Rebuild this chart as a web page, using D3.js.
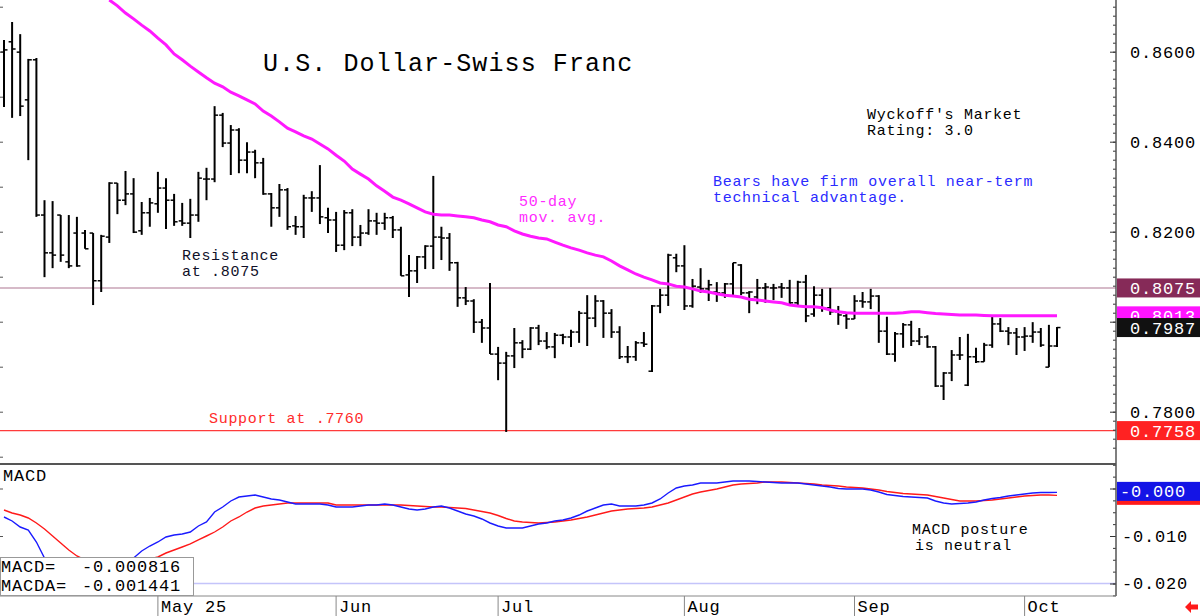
<!DOCTYPE html>
<html>
<head>
<meta charset="utf-8">
<script src="https://cdn.jsdelivr.net/npm/d3@7"></script>
<style>
  body { margin: 0; background: #fff; }
  svg text { font-family: "Liberation Mono", "DejaVu Sans Mono", monospace; }
</style>
</head>
<body>
<div id="chart"></div>
<script>
// daily bars, USD/CHF (bar index 0 = early April)
const opens = [
  0.8599,0.8622,0.8599,0.8493,0.8582,0.8237,0.8153,0.8237,0.8133,0.8197,
  0.8197,0.8197,0.8091,0.8188,0.8308,0.8270,0.8284,0.8202,0.8242,0.8262,
  0.8297,0.8270,0.8224,0.8219,0.8237,0.8317,0.8317,0.8459,0.8397,0.8426,
  0.8359,0.8377,0.8353,0.8284,0.8253,0.8293,0.8213,0.8211,0.8275,0.8275,
  0.8231,0.8226,0.8170,0.8242,0.8188,0.8197,0.8224,0.8219,0.8231,0.8204,
  0.8104,0.8113,0.8144,0.8168,0.8188,0.8186,0.8131,0.8053,0.8046,0.7999,
  0.7986,0.7928,0.7908,0.7924,0.7953,0.7939,0.7986,0.7957,0.7944,0.7970,
  0.7966,0.7977,0.8019,0.8008,0.8046,0.8019,0.7977,0.7922,0.7922,0.7953,
  0.7890,0.8035,0.8059,0.8142,0.8124,0.8035,0.8077,0.8073,0.8066,0.8064,
  0.8084,0.8126,0.8064,0.8055,0.8075,0.8075,0.8077,0.8075,0.8042,0.8088,
  0.8017,0.8059,0.8031,0.8022,0.8013,0.8006,0.8046,0.8044,0.8057,0.7979,
  0.7928,0.7973,0.7993,0.7957,0.7966,0.7944,0.7857,0.7886,0.7926,0.7859,
  0.7922,0.7911,0.7948,0.7995,0.7979,0.7975,0.7966,0.7968,0.7977,0.7899,
  0.7946];
const highs = [
  0.8626,0.8666,0.8639,0.8584,0.8586,0.8270,0.8268,0.8237,0.8237,0.8233,
  0.8204,0.8197,0.8193,0.8310,0.8308,0.8335,0.8319,0.8266,0.8275,0.8333,
  0.8319,0.8284,0.8264,0.8273,0.8333,0.8342,0.8479,0.8464,0.8437,0.8430,
  0.8399,0.8382,0.8364,0.8286,0.8306,0.8297,0.8235,0.8282,0.8290,0.8348,
  0.8253,0.8244,0.8248,0.8250,0.8215,0.8250,0.8242,0.8242,0.8235,0.8211,
  0.8148,0.8146,0.8170,0.8324,0.8211,0.8197,0.8133,0.8077,0.8050,0.8006,
  0.8086,0.7944,0.7933,0.7986,0.7959,0.7988,0.7993,0.7977,0.7975,0.7973,
  0.7982,0.8024,0.8059,0.8059,0.8048,0.8028,0.7990,0.7946,0.7957,0.7977,
  0.8037,0.8073,0.8151,0.8151,0.8170,0.8095,0.8119,0.8093,0.8088,0.8086,
  0.8131,0.8128,0.8068,0.8095,0.8086,0.8084,0.8086,0.8093,0.8091,0.8104,
  0.8079,0.8073,0.8075,0.8035,0.8019,0.8059,0.8066,0.8073,0.8059,0.8011,
  0.7977,0.7997,0.8002,0.7986,0.7970,0.7946,0.7888,0.7937,0.7966,0.7973,
  0.7942,0.7953,0.8011,0.8008,0.7988,0.7986,0.7988,0.7999,0.7986,0.7993,
  0.7988];
const lows = [
  0.8477,0.8453,0.8457,0.8359,0.8233,0.8099,0.8119,0.8133,0.8119,0.8122,
  0.8162,0.8037,0.8066,0.8175,0.8239,0.8259,0.8197,0.8193,0.8211,0.8242,
  0.8206,0.8213,0.8213,0.8186,0.8222,0.8270,0.8310,0.8388,0.8326,0.8330,
  0.8330,0.8319,0.8282,0.8211,0.8233,0.8204,0.8193,0.8186,0.8244,0.8217,
  0.8197,0.8155,0.8159,0.8168,0.8168,0.8193,0.8193,0.8204,0.8186,0.8102,
  0.8055,0.8086,0.8117,0.8117,0.8137,0.8113,0.8033,0.8037,0.7975,0.7953,
  0.7928,0.7870,0.7755,0.7897,0.7919,0.7937,0.7948,0.7939,0.7919,0.7950,
  0.7944,0.7953,0.7946,0.7988,0.7964,0.7964,0.7917,0.7908,0.7913,0.7944,
  0.7888,0.8019,0.8035,0.8110,0.8026,0.8031,0.8064,0.8046,0.8044,0.8053,
  0.8057,0.8059,0.8019,0.8039,0.8042,0.8048,0.8053,0.8037,0.8033,0.7999,
  0.8011,0.8022,0.8015,0.7993,0.7984,0.8006,0.8031,0.8028,0.7953,0.7926,
  0.7911,0.7942,0.7946,0.7948,0.7942,0.7855,0.7826,0.7868,0.7915,0.7857,
  0.7908,0.7911,0.7942,0.7977,0.7948,0.7926,0.7935,0.7953,0.7944,0.7899,
  0.7944];
const closes = [
  0.8604,0.8606,0.8479,0.8582,0.8237,0.8153,0.8148,0.8148,0.8124,0.8124,
  0.8162,0.8091,0.8190,0.8308,0.8270,0.8284,0.8199,0.8242,0.8264,0.8297,
  0.8270,0.8222,0.8219,0.8237,0.8319,0.8317,0.8459,0.8397,0.8426,0.8359,
  0.8377,0.8353,0.8284,0.8253,0.8293,0.8211,0.8211,0.8275,0.8275,0.8233,
  0.8226,0.8170,0.8242,0.8188,0.8197,0.8224,0.8219,0.8231,0.8204,0.8102,
  0.8113,0.8144,0.8168,0.8188,0.8186,0.8131,0.8053,0.8046,0.7999,0.7986,
  0.7928,0.7908,0.7924,0.7953,0.7939,0.7986,0.7957,0.7944,0.7970,0.7966,
  0.7977,0.8019,0.8008,0.8046,0.8019,0.7977,0.7922,0.7922,0.7953,0.7950,
  0.8035,0.8059,0.8148,0.8124,0.8035,0.8079,0.8073,0.8082,0.8064,0.8084,
  0.8131,0.8064,0.8066,0.8075,0.8077,0.8075,0.8075,0.8042,0.8088,0.8013,
  0.8059,0.8031,0.8022,0.8015,0.8006,0.8046,0.8044,0.8057,0.7979,0.7928,
  0.7973,0.7993,0.7957,0.7966,0.7944,0.7857,0.7886,0.7926,0.7926,0.7922,
  0.7911,0.7948,0.7995,0.7979,0.7975,0.7966,0.7968,0.7977,0.7948,0.7946,
  0.7987];

// 50-day moving average (above the chart before bar 13)
const ma50 = [
  null,null,null,null,null,null,null,null,null,null,
  null,null,null,0.8715,0.8702,0.8686,0.8673,0.8659,0.8646,0.8630,
  0.8615,0.8595,0.8582,0.8568,0.8555,0.8542,0.8530,0.8522,0.8510,0.8502,
  0.8493,0.8484,0.8468,0.8457,0.8444,0.8430,0.8422,0.8413,0.8406,0.8395,
  0.8384,0.8370,0.8357,0.8339,0.8328,0.8317,0.8302,0.8290,0.8277,0.8270,
  0.8262,0.8253,0.8244,0.8239,0.8237,0.8237,0.8235,0.8233,0.8231,0.8226,
  0.8222,0.8215,0.8211,0.8202,0.8195,0.8190,0.8186,0.8184,0.8177,0.8170,
  0.8164,0.8159,0.8153,0.8148,0.8144,0.8135,0.8124,0.8115,0.8106,0.8099,
  0.8093,0.8086,0.8084,0.8079,0.8077,0.8073,0.8068,0.8066,0.8062,0.8059,
  0.8057,0.8055,0.8050,0.8048,0.8046,0.8044,0.8042,0.8037,0.8035,0.8033,
  0.8033,0.8031,0.8026,0.8022,0.8020,0.8019,0.8019,0.8019,0.8019,0.8019,
  0.8019,0.8020,0.8022,0.8022,0.8020,0.8018,0.8017,0.8016,0.8015,0.8015,
  0.8015,0.8014,0.8013,0.8013,0.8013,0.8013,0.8013,0.8013,0.8013,0.8013,
  0.8013];

// MACD (blue) and MACDA signal (red)
const macd = [
  -0.00600,-0.00684,-0.00811,-0.00874,-0.01126,-0.01463,-0.01632,-0.01758,-0.01842,-0.01884,
  -0.01905,-0.01926,-0.01905,-0.01842,-0.01737,-0.01611,-0.01463,-0.01316,-0.01211,-0.01126,
  -0.01021,-0.00979,-0.00958,-0.00916,-0.00789,-0.00705,-0.00495,-0.00389,-0.00263,-0.00179,
  -0.00158,-0.00137,-0.00179,-0.00221,-0.00242,-0.00284,-0.00326,-0.00326,-0.00326,-0.00326,
  -0.00347,-0.00389,-0.00389,-0.00389,-0.00368,-0.00347,-0.00347,-0.00326,-0.00347,-0.00389,
  -0.00432,-0.00453,-0.00432,-0.00389,-0.00368,-0.00411,-0.00474,-0.00537,-0.00579,-0.00642,
  -0.00726,-0.00789,-0.00832,-0.00832,-0.00832,-0.00789,-0.00747,-0.00726,-0.00684,-0.00663,
  -0.00621,-0.00558,-0.00474,-0.00411,-0.00347,-0.00326,-0.00368,-0.00368,-0.00368,-0.00347,
  -0.00305,-0.00221,-0.00095,0.00011,0.00053,0.00074,0.00116,0.00116,0.00116,0.00137,
  0.00158,0.00158,0.00158,0.00147,0.00137,0.00126,0.00116,0.00116,0.00116,0.00095,
  0.00074,0.00053,0.00032,0.00000,-0.00011,-0.00011,-0.00011,-0.00032,-0.00074,-0.00126,
  -0.00147,-0.00168,-0.00179,-0.00189,-0.00200,-0.00263,-0.00305,-0.00326,-0.00316,-0.00305,
  -0.00284,-0.00242,-0.00211,-0.00189,-0.00158,-0.00137,-0.00116,-0.00095,-0.00084,-0.00084,
  -0.000816];
const macdSignal = [
  -0.00453,-0.00516,-0.00558,-0.00621,-0.00726,-0.00853,-0.01000,-0.01147,-0.01295,-0.01421,
  -0.01505,-0.01568,-0.01611,-0.01632,-0.01632,-0.01611,-0.01568,-0.01526,-0.01484,-0.01442,
  -0.01358,-0.01295,-0.01232,-0.01168,-0.01084,-0.01000,-0.00916,-0.00811,-0.00684,-0.00600,
  -0.00495,-0.00411,-0.00368,-0.00347,-0.00326,-0.00305,-0.00305,-0.00305,-0.00305,-0.00305,
  -0.00305,-0.00347,-0.00347,-0.00347,-0.00347,-0.00347,-0.00347,-0.00347,-0.00347,-0.00347,
  -0.00358,-0.00368,-0.00379,-0.00389,-0.00389,-0.00400,-0.00411,-0.00421,-0.00453,-0.00484,
  -0.00516,-0.00568,-0.00632,-0.00684,-0.00705,-0.00716,-0.00726,-0.00716,-0.00705,-0.00684,
  -0.00663,-0.00632,-0.00600,-0.00558,-0.00516,-0.00474,-0.00453,-0.00432,-0.00421,-0.00411,
  -0.00389,-0.00347,-0.00305,-0.00242,-0.00179,-0.00116,-0.00074,-0.00042,-0.00011,0.00032,
  0.00074,0.00095,0.00105,0.00116,0.00137,0.00137,0.00137,0.00126,0.00116,0.00105,
  0.00095,0.00074,0.00063,0.00053,0.00032,0.00021,0.00011,-0.00011,-0.00032,-0.00063,
  -0.00084,-0.00105,-0.00116,-0.00126,-0.00137,-0.00168,-0.00200,-0.00232,-0.00263,-0.00263,
  -0.00263,-0.00253,-0.00242,-0.00221,-0.00200,-0.00179,-0.00158,-0.00147,-0.00137,-0.00137,
  -0.001441];

const monthIdx = [19, 41, 61, 84, 105, 126];
const monthLabels = ["May 25", "Jun", "Jul", "Aug", "Sep", "Oct"];
const priceTicks = [0.86, 0.84, 0.82, 0.80, 0.78];
const macdTicks = [0, -0.01, -0.02];
const resistance = 0.8075;
const support = 0.7758;

const W = 1200, H = 616;
const axisX = 1116;          // right edge of plot area
const mainBottom = 463, macdTop = 464, macdBottom = 596;

const svg = d3.select("#chart").append("svg")
    .attr("width", W).attr("height", H)
    .style("display", "block");

const x = d3.scaleLinear().domain([0, opens.length - 1]).range([4, 1057]);
const y = d3.scaleLinear().domain([0.86, 0.78]).range([51.7, 411.7]);
const ym = d3.scaleLinear().domain([0, -0.02]).range([488.5, 583.5]);

// monospace text helper: pitch = px per character
function txt(g, px, py, str, size, pitch, color) {
    return g.append("text")
        .attr("x", px).attr("y", py)
        .attr("font-size", size)
        .attr("letter-spacing", (pitch - 0.6 * size).toFixed(2))
        .attr("fill", color || "#000")
        .text(str);
}

// the charting package truncates instead of rounding
function trunc3(v) {
    return (v < 0 ? "-" : "") + (Math.floor(Math.abs(v) * 1000) / 1000).toFixed(3);
}

const defs = svg.append("defs");
defs.append("clipPath").attr("id", "clipMain")
    .append("rect").attr("x", 0).attr("y", 0).attr("width", axisX).attr("height", mainBottom);
defs.append("clipPath").attr("id", "clipMacd")
    .append("rect").attr("x", 0).attr("y", macdTop).attr("width", axisX).attr("height", macdBottom - macdTop);

// ---------- main price panel ----------
const main = svg.append("g").attr("clip-path", "url(#clipMain)");

main.append("line")
    .attr("x1", 0).attr("x2", axisX)
    .attr("y1", y(resistance)).attr("y2", y(resistance))
    .attr("stroke", "#c9a3b6").attr("stroke-width", 1.5);
main.append("line")
    .attr("x1", 0).attr("x2", axisX)
    .attr("y1", y(support)).attr("y2", y(support))
    .attr("stroke", "#ff3b3b").attr("stroke-width", 1.2);

const idx = d3.range(opens.length);
const bars = main.append("g").attr("stroke", "#000");
bars.selectAll("line.hl").data(idx).join("line")
    .attr("class", "hl")
    .attr("x1", i => x(i)).attr("x2", i => x(i))
    .attr("y1", i => y(highs[i])).attr("y2", i => y(lows[i]))
    .attr("stroke-width", 2);
bars.selectAll("line.op").data(idx).join("line")
    .attr("class", "op")
    .attr("x1", i => x(i) - 3.5).attr("x2", i => x(i))
    .attr("y1", i => y(opens[i])).attr("y2", i => y(opens[i]))
    .attr("stroke-width", 1.5);
bars.selectAll("line.cl").data(idx).join("line")
    .attr("class", "cl")
    .attr("x1", i => x(i)).attr("x2", i => x(i) + 3.5)
    .attr("y1", i => y(closes[i])).attr("y2", i => y(closes[i]))
    .attr("stroke-width", 1.5);

const maLine = d3.line()
    .defined(d => d != null)
    .x((d, i) => x(i))
    .y(d => y(d));
main.append("path")
    .datum(ma50)
    .attr("d", maLine)
    .attr("fill", "none")
    .attr("stroke", "#ff19ff")
    .attr("stroke-width", 3);

// annotations
txt(svg, 263, 71, "U.S. Dollar-Swiss Franc", 25, 16.1, "#000");
txt(svg, 867, 119, "Wyckoff's Market", 15, 9.7, "#000");
txt(svg, 867, 135, "Rating: 3.0", 15, 9.7, "#000");
txt(svg, 713, 186, "Bears have firm overall near-term", 15, 9.7, "#2b2bff");
txt(svg, 713, 202, "technical advantage.", 15, 9.7, "#2b2bff");
txt(svg, 519, 206, "50-day", 15, 9.7, "#ff2bff");
txt(svg, 519, 222, "mov. avg.", 15, 9.7, "#ff2bff");
txt(svg, 182, 260, "Resistance", 15, 9.7, "#101028");
txt(svg, 182, 276, "at .8075", 15, 9.7, "#101028");
txt(svg, 209, 423, "Support at .7760", 15, 9.7, "#ff2b2b");

// right price axis: ticks point into the plot, labels outside
const minorPrice = d3.range(0.772, 0.8721, 0.002);
const pAxisMinor = svg.append("g").attr("transform", `translate(${axisX},0)`)
    .call(d3.axisRight(y).tickValues(minorPrice).tickSize(-3).tickFormat(""));
pAxisMinor.select(".domain").remove();
pAxisMinor.selectAll("line").attr("stroke", "#333");

const pAxis = svg.append("g").attr("transform", `translate(${axisX},0)`)
    .call(d3.axisRight(y).tickValues(priceTicks).tickSize(-6).tickPadding(14)
        .tickFormat(d => d.toFixed(4)));
pAxis.select(".domain").remove();
pAxis.selectAll("line").attr("stroke", "#333");
pAxis.selectAll("text")
    .attr("font-family", "Liberation Mono, monospace")
    .attr("font-size", 17)
    .attr("letter-spacing", (11 - 0.6 * 17).toFixed(2))
    .attr("fill", "#000");

// small ticks on left edge
const leftAxis = svg.append("g")
    .call(d3.axisRight(y).tickValues(d3.range(0.77, 0.8701, 0.01)).tickSize(3).tickFormat(""));
leftAxis.select(".domain").remove();
leftAxis.selectAll("line").attr("stroke", "#555");

// ---------- MACD panel ----------
const mp = svg.append("g").attr("clip-path", "url(#clipMacd)");
mp.append("line")
    .attr("x1", 0).attr("x2", axisX)
    .attr("y1", ym(-0.02)).attr("y2", ym(-0.02))
    .attr("stroke", "#c4c4fa").attr("stroke-width", 1.5);

const mLine = d3.line().x((d, i) => x(i)).y(d => ym(d));
mp.append("path").datum(macdSignal).attr("d", mLine)
    .attr("fill", "none").attr("stroke", "#ff1a1a").attr("stroke-width", 1.4);
mp.append("path").datum(macd).attr("d", mLine)
    .attr("fill", "none").attr("stroke", "#1a1aff").attr("stroke-width", 1.4);

txt(svg, 3, 481, "MACD", 17, 11, "#000");
txt(svg, 912, 534, "MACD posture", 15, 9.7, "#000");
txt(svg, 915, 550, "is neutral", 15, 9.7, "#000");

// MACD right axis
const mAxisMinor = svg.append("g").attr("transform", `translate(${axisX},0)`)
    .call(d3.axisRight(ym).tickValues(d3.range(0.005, -0.0226, -0.0025)).tickSize(-3).tickFormat(""));
mAxisMinor.select(".domain").remove();
mAxisMinor.selectAll("line").attr("stroke", "#333");
const mAxis = svg.append("g").attr("transform", `translate(${axisX},0)`)
    .call(d3.axisRight(ym).tickValues(macdTicks).tickSize(-6).tickPadding(6)
        .tickFormat(d => d.toFixed(3)));
mAxis.select(".domain").remove();
mAxis.selectAll("line").attr("stroke", "#333");
mAxis.selectAll("text")
    .attr("font-family", "Liberation Mono, monospace")
    .attr("font-size", 17)
    .attr("letter-spacing", (11 - 0.6 * 17).toFixed(2))
    .attr("fill", "#000");
const mLeft = svg.append("g")
    .call(d3.axisRight(ym).tickValues(macdTicks).tickSize(3).tickFormat(""));
mLeft.select(".domain").remove();
mLeft.selectAll("line").attr("stroke", "#555");

// panel frame
svg.append("line").attr("x1", axisX).attr("x2", axisX).attr("y1", 0).attr("y2", macdBottom)
    .attr("stroke", "#555").attr("stroke-width", 1.5);
svg.append("line").attr("x1", 0).attr("x2", axisX).attr("y1", 464).attr("y2", 464)
    .attr("stroke", "#555").attr("stroke-width", 2.2);
svg.append("line").attr("x1", 0).attr("x2", axisX).attr("y1", macdBottom).attr("y2", macdBottom)
    .attr("stroke", "#888").attr("stroke-width", 1);

// last-value boxes on the right
function valueBox(py, str, fill, h) {
    h = h || 19;
    svg.append("rect").attr("x", axisX + 1).attr("y", py - h / 2)
        .attr("width", W - axisX - 1).attr("height", h).attr("fill", fill);
    txt(svg, 1130, py + 6, str, 17, 11, "#fff");
}
valueBox(y(resistance), resistance.toFixed(4), "#862a58");
valueBox(y(ma50[ma50.length - 1]), ma50[ma50.length - 1].toFixed(4), "#ff14ff");
valueBox(y(closes[closes.length - 1]), closes[closes.length - 1].toFixed(4), "#111");
valueBox(y(support), support.toFixed(4), "#ff2222");

const lastSig = macdSignal[macdSignal.length - 1];
const lastMacd = macd[macd.length - 1];
svg.append("rect").attr("x", axisX + 1).attr("y", ym(lastSig) - 9.5)
    .attr("width", W - axisX - 1).attr("height", 19).attr("fill", "#ff1a1a");
svg.append("rect").attr("x", axisX + 1).attr("y", ym(lastMacd) - 10.5)
    .attr("width", W - axisX - 1).attr("height", 19).attr("fill", "#1414e6");
txt(svg, 1120, ym(lastMacd) + 5, trunc3(lastMacd), 17, 11, "#fff");

// MACD readout box
svg.append("rect").attr("x", 0.5).attr("y", 557.5).attr("width", 193).attr("height", 38)
    .attr("fill", "#fff").attr("stroke", "#999");
txt(svg, 1, 572, "MACD=", 17, 11, "#000");
txt(svg, 82, 572, lastMacd.toFixed(6), 17, 11, "#000");
txt(svg, 1, 591, "MACDA=", 17, 11, "#000");
txt(svg, 82, 591, lastSig.toFixed(6), 17, 11, "#000");

// month axis
const mon = svg.append("g");
mon.selectAll("line").data(monthIdx).join("line")
    .attr("x1", d => x(d)).attr("x2", d => x(d))
    .attr("y1", macdBottom).attr("y2", H)
    .attr("stroke", "#888");
monthIdx.forEach((d, k) => txt(mon, x(d) + 3, 612, monthLabels[k], 17, 11, "#000"));

// small red arrow bottom right
svg.append("path")
    .attr("d", "M1185,607 L1191,601 L1191,604.5 L1198,604.5 L1198,609.5 L1191,609.5 L1191,613 Z")
    .attr("fill", "#ff1a1a");
</script>
</body>
</html>
